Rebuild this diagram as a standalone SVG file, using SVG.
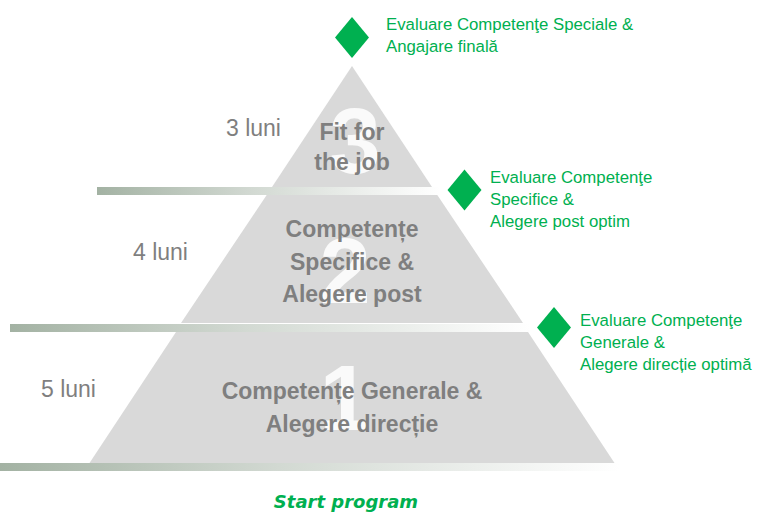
<svg xmlns="http://www.w3.org/2000/svg" width="760" height="514" viewBox="0 0 760 514">
<style>
.tier{fill:#d9d9d9}
.num{font-family:"Liberation Sans",Arial,sans-serif;font-weight:bold;font-size:92px;fill:#ffffff;fill-opacity:0.85;text-anchor:middle}
.lbl{font-family:"Liberation Sans",Arial,sans-serif;font-weight:bold;font-size:23px;fill:#7f7f7f;text-anchor:middle}
.dur{font-family:"Liberation Sans",Arial,sans-serif;font-size:23px;fill:#7f7f7f}
.ev{font-family:"Liberation Sans",Arial,sans-serif;font-size:16.8px;fill:#00b050}
.dia{fill:#00b050}
.start{font-family:"DejaVu Sans",sans-serif;font-style:italic;font-weight:bold;font-size:18px;fill:#00b050;text-anchor:middle}
</style>
<defs>
<linearGradient id="bar" x1="0" y1="0" x2="1" y2="0">
<stop offset="0" stop-color="#a3b2a3"/>
<stop offset="0.45" stop-color="#d2d9d2"/>
<stop offset="1" stop-color="#ffffff"/>
</linearGradient>
</defs>
<rect width="760" height="514" fill="#ffffff"/>
<g id="tier3">
<polygon class="tier" points="352,66 432,187 272,187"/>
<text class="num" x="355" y="173">3</text>
<text class="lbl" x="352" y="140">Fit for</text>
<text class="lbl" x="352" y="170">the job</text>
<text class="dur" x="226" y="136">3 luni</text>
</g>
<g id="tier2">
<polygon class="tier" points="266.7,195 437.3,195 523,323 181,323"/>
<text class="num" x="345" y="303">2</text>
<text class="lbl" x="352" y="237">Competențe</text>
<text class="lbl" x="352" y="270">Specifice &amp;</text>
<text class="lbl" x="352" y="302">Alegere post</text>
<text class="dur" x="133" y="260">4 luni</text>
</g>
<g id="tier1">
<polygon class="tier" points="176,332 528,332 614.5,463 89.5,463"/>
<text class="num" x="345" y="430">1</text>
<text class="lbl" x="352" y="399">Competențe Generale &amp;</text>
<text class="lbl" x="352" y="432">Alegere direcție</text>
<text class="dur" x="41" y="397">5 luni</text>
</g>
<g id="bars">
<rect x="97" y="187" width="343" height="8" fill="url(#bar)"/>
<rect x="10" y="324" width="520" height="8" fill="url(#bar)"/>
<rect x="0" y="463" width="620" height="8" fill="url(#bar)"/>
</g>
<g id="eval3">
<polygon class="dia" points="352,17 369,37.5 352,58 335,37.5"/>
<text class="ev" x="386" y="29.5">Evaluare Competenţe Speciale &amp;</text>
<text class="ev" x="386" y="52">Angajare finală</text>
</g>
<g id="eval2">
<polygon class="dia" points="464.5,169.5 481.5,190 464.5,210.5 447.5,190"/>
<text class="ev" x="490" y="183">Evaluare Competenţe</text>
<text class="ev" x="490" y="205">Specifice &amp;</text>
<text class="ev" x="490" y="227">Alegere post optim</text>
</g>
<g id="eval1">
<polygon class="dia" points="554,307 571,327.5 554,348 537,327.5"/>
<text class="ev" x="580" y="326">Evaluare Competenţe</text>
<text class="ev" x="580" y="348">Generale &amp;</text>
<text class="ev" x="580" y="370">Alegere direcție optimă</text>
</g>
<g id="start">
<text class="start" x="346" y="508">Start program</text>
</g>
</svg>
